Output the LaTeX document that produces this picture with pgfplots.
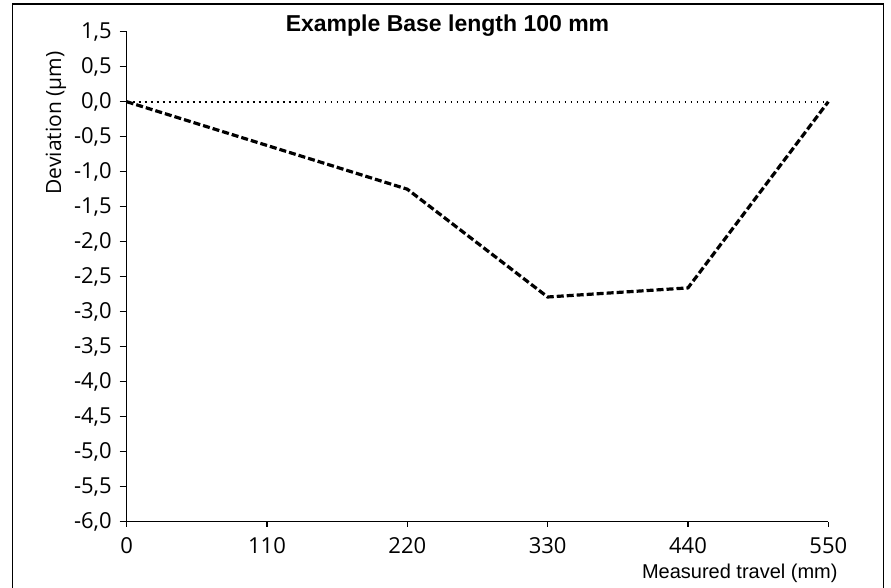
\documentclass[border=0pt]{standalone}
\usepackage{pgfplots}
\pgfplotsset{compat=1.18}
\usepackage{fontspec}
\setmainfont{Open Sans}
\newfontfamily\titlefont{Liberation Sans}
\begin{document}
\begin{tikzpicture}
\path[use as bounding box] (0,0) rectangle (445.5pt,294pt);
\draw[line width=0.65pt] (6.15pt,-10pt) -- (6.15pt,292pt) -- (441.65pt,292pt) -- (441.65pt,-10pt);
\begin{axis}[
  at={(63.35pt,33.15pt)}, anchor=south west,
  scale only axis, width=350.8pt, height=245pt,
  xmin=0, xmax=550, ymin=-6, ymax=1,
  axis lines*=left,
  axis line style={-, line width=0.6pt},
  xtick={0,110,220,330,440,550},
  xticklabels={\raisebox{4.5pt}{0},110,220,330,440,550},
  ytick={-6,-5.5,-5,-4.5,-4,-3.5,-3,-2.5,-2,-1.5,-1,-0.5,0,0.5,1},
  yticklabels={{-6,0},{-5,5},{-5,0},{-4,5},{-4,0},{-3,5},{-3,0},{-2,5},{-2,0},{-1,5},{-1,0},{-0,5},{0,0},{0,5},{1,5}},
  tick align=outside,
  major tick length=3.5pt,
  tick style={line width=0.6pt, black},
  xtick style={/pgfplots/major tick length=2.5pt},
  ticklabel style={font=\fontsize{11}{13}\selectfont},
  yticklabel style={xshift=-0.5pt},
  xticklabel style={yshift=-1pt},
  clip=false,
]
\addplot[black, line width=0.9pt, dash pattern=on 0.9pt off 2.1pt] coordinates {(0,0) (550,0)};
\addplot[black, line width=1.6pt, dash pattern=on 3.5pt off 1.5pt] coordinates {
(0,0) (220,-1.25) (330,-2.79) (440,-2.66) (550,0)};
\end{axis}
\node[anchor=base, font=\titlefont\bfseries\fontsize{11.5}{13}\selectfont] at (223.75pt,278pt) {Example Base length 100 mm};
\node[anchor=east, font=\titlefont\fontsize{10}{12}\selectfont, inner sep=0pt] at (419pt,7.5pt) {Measured travel (mm)};
\node[rotate=90, font=\fontsize{10.5}{12}\selectfont, inner sep=0pt] at (28pt,232.5pt) {Deviation (µm)};
\end{tikzpicture}
\end{document}
